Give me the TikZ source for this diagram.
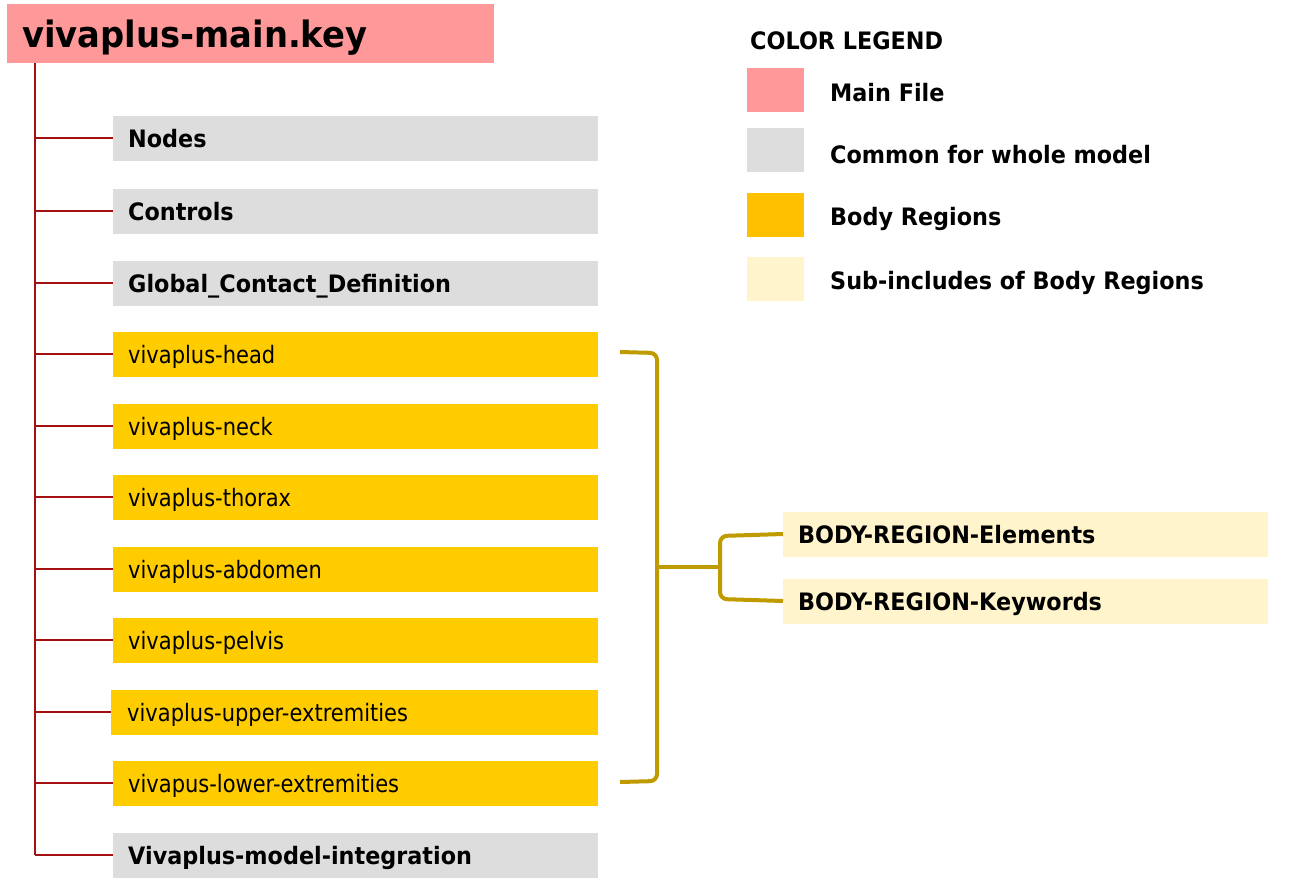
\documentclass[tikz,border=0pt]{standalone}
\usepackage{fontspec}
\setmainfont{DejaVu Sans}[FakeStretch=0.875]
\newfontfamily\bfam{DejaVu Sans}[FakeStretch=0.93]
\definecolor{vpink}{RGB}{255,153,153}
\definecolor{vgray}{RGB}{221,221,221}
\definecolor{vyel}{RGB}{255,204,0}
\definecolor{vlegyel}{RGB}{255,192,0}
\definecolor{vlight}{RGB}{255,244,204}
\definecolor{vred}{RGB}{162,16,16}
\definecolor{vgold}{RGB}{191,155,0}
\begin{document}
\begin{tikzpicture}[x=1pt,y=-1pt,
  box/.style={anchor=west, inner xsep=15pt, inner ysep=0pt, minimum height=45pt,
    text width=455pt, align=left, text height=18pt, text depth=0pt,
    font=\fontsize{24}{28}\selectfont},
  bbox/.style={box, font=\bfam\bfseries\fontsize{24}{28}\selectfont},
  gbox/.style={bbox, fill=vgray},
  ybox/.style={box, fill=vyel},
  lbox/.style={bbox, fill=vlight},
  swatch/.style={anchor=north west, minimum width=57pt, minimum height=44pt, inner sep=0pt},
  legtext/.style={anchor=base west, inner sep=0pt, font=\bfam\bfseries\fontsize{24}{28}\selectfont},
  redline/.style={draw=vred, line width=2pt},
  brk/.style={draw=vgold, line width=4pt, rounded corners=7pt}
]
\useasboundingbox (0,0) rectangle (1314,884);
\fill[white] (0,0) rectangle (1314,884);

% main file
\node[anchor=west, fill=vpink, inner xsep=15pt, inner ysep=0pt, minimum height=59pt,
  text width=457pt, align=left, text height=27pt, text depth=0pt,
  font=\bfam\bfseries\fontsize{36.3}{40}\selectfont] (main) at (7,33.5) {vivaplus-main.key};

% included files
\node[gbox] (nodes)    at (113,138) {Nodes};
\node[gbox] (controls) at (113,211) {Controls};
\node[gbox] (global)   at (113,283) {Global\_Contact\_Definition};
\node[ybox] (head)     at (113,354) {vivaplus-head};
\node[ybox] (neck)     at (113,426) {vivaplus-neck};
\node[ybox] (thorax)   at (113,497) {vivaplus-thorax};
\node[ybox] (abdomen)  at (113,569) {vivaplus-abdomen};
\node[ybox] (pelvis)   at (113,640) {vivaplus-pelvis};
\node[ybox, inner xsep=16pt, text width=455pt] (upper) at (111,712) {vivaplus-upper-extremities};
\node[ybox] (lower)    at (113,783) {vivapus-lower-extremities};
\node[gbox] (integ)    at (113,855) {Vivaplus-model-integration};

% tree trunk coordinates
\coordinate (t1)  at (35,138);
\coordinate (t2)  at (35,211);
\coordinate (t3)  at (35,283);
\coordinate (t4)  at (35,354);
\coordinate (t5)  at (35,426);
\coordinate (t6)  at (35,497);
\coordinate (t7)  at (35,569);
\coordinate (t8)  at (35,640);
\coordinate (t9)  at (35,712);
\coordinate (t10) at (35,783);
\coordinate (t11) at (35,855);

\draw[redline] (main.south -| t11) -- (t11);
\draw[redline] (t1) -- (nodes.west);
\draw[redline] (t2) -- (controls.west);
\draw[redline] (t3) -- (global.west);
\draw[redline] (t4) -- (head.west);
\draw[redline] (t5) -- (neck.west);
\draw[redline] (t6) -- (thorax.west);
\draw[redline] (t7) -- (abdomen.west);
\draw[redline] (t8) -- (pelvis.west);
\draw[redline] (t9) -- (upper.west);
\draw[redline] (t10) -- (lower.west);
\draw[redline] (t11) -- (integ.west);

% sub-includes
\node[lbox] (elem) at (783,534) {BODY-REGION-Elements};
\node[lbox] (kw)   at (783,601) {BODY-REGION-Keywords};

% brackets
\coordinate (bt) at (620,352);
\coordinate (bb) at (620,782);
\coordinate (bmid) at (657,567);
\coordinate (smid) at (720,567);
\draw[brk] (bt) -- (657,353) -- (657,781) -- (bb);
\draw[draw=vgold, line width=4pt] (bmid) -- (smid);
\draw[brk] (elem.west) -- (720,536) -- (720,599) -- (kw.west);

% legend
\node[anchor=base west, inner sep=0pt, font=\bfam\bfseries\fontsize{24}{28}\selectfont] (legtitle) at (750,49) {COLOR LEGEND};
\node[swatch, fill=vpink]   (s1) at (747,68)  {};
\node[swatch, fill=vgray]   (s2) at (747,128) {};
\node[swatch, fill=vlegyel] (s3) at (747,193) {};
\node[swatch, fill=vlight]  (s4) at (747,257) {};
\node[legtext] (l1) at (830,101) {Main File};
\node[legtext] (l2) at (830,163) {Common for whole model};
\node[legtext] (l3) at (830,225.5) {Body Regions};
\node[legtext] (l4) at (830,289.5) {Sub-includes of Body Regions};
\end{tikzpicture}
\end{document}
